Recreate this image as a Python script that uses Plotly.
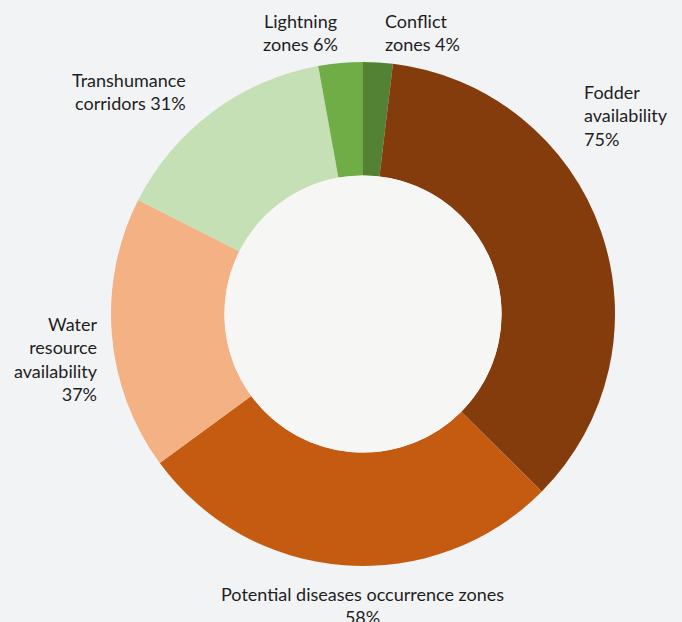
import plotly.graph_objects as go

# Data
categories = ["Conflict zones", "Fodder availability", "Potential diseases occurrence zones",
              "Water resource availability", "Transhumance corridors", "Lightning zones"]
values = [4, 75, 58, 37, 31, 6]
label_texts = ["Conflict<br>zones 4%", "Fodder<br>availability<br>75%",
               "Potential diseases occurrence zones<br>58%",
               "Water<br>resource<br>availability<br>37%",
               "Transhumance<br>corridors 31%", "Lightning<br>zones 6%"]
colors = ["#548235", "#843C0C", "#C55A11", "#F4B183", "#C5E0B4", "#70AD47"]

W, H = 682, 622
BG = "#F2F3F5"
HOLE = "#F6F6F4"
cx, cy, R = 363, 314, 252
hole_frac = 0.55

# label anchor positions in pixels (x, y, xanchor, align)
label_pos = [
    (383, 32, "left", "left"),
    (582, 115, "left", "left"),
    (362, 605, "center", "center"),
    (100, 359, "right", "right"),
    (188, 92, "right", "right"),
    (300, 32, "center", "center"),
]

fig = go.Figure()
fig.add_trace(go.Pie(
    labels=categories, values=values, sort=False, direction="clockwise", rotation=0,
    hole=hole_frac, textinfo="none", hoverinfo="label+value",
    marker=dict(colors=colors, line=dict(width=0)),
    domain=dict(x=[(cx - R) / W, (cx + R) / W], y=[(H - cy - R) / H, (H - cy + R) / H]),
    showlegend=False,
))

shapes = [dict(type="circle", xref="paper", yref="paper", layer="above",
               x0=(cx - R * hole_frac) / W, x1=(cx + R * hole_frac) / W,
               y0=(H - cy - R * hole_frac) / H, y1=(H - cy + R * hole_frac) / H,
               fillcolor=HOLE, line=dict(width=0))]

annotations = []
for t, (px, py, xa, al) in zip(label_texts, label_pos):
    annotations.append(dict(text=t, x=px / W, y=1 - py / H, xref="paper", yref="paper",
                            xanchor=xa, yanchor="middle", align=al, showarrow=False,
                            font=dict(family="Lato", size=18, color="#1E1E1E")))

fig.update_layout(width=W, height=H, margin=dict(l=0, r=0, t=0, b=0),
                  paper_bgcolor=BG, plot_bgcolor=BG, annotations=annotations, shapes=shapes)
fig.write_html("out.html")
